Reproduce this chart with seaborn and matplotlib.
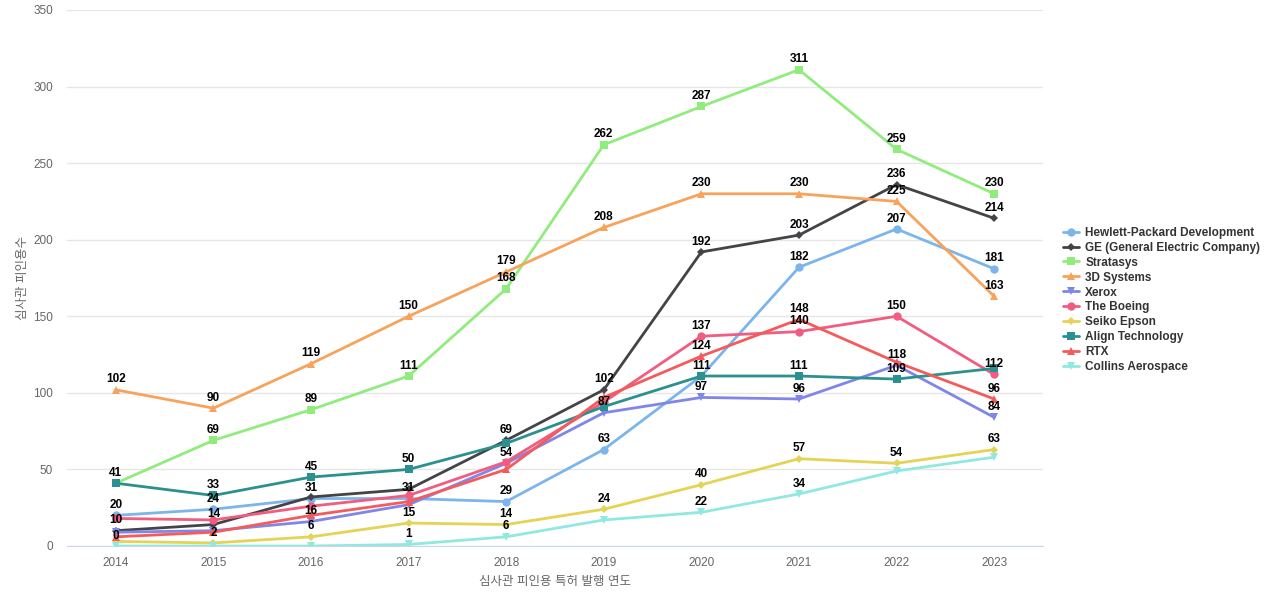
import pandas as pd
import numpy as np
import matplotlib
matplotlib.use('Agg')
import matplotlib.pyplot as plt
import seaborn as sns

# ─────────────────────────────────────────────
# DATA
# ─────────────────────────────────────────────
years = [2014, 2015, 2016, 2017, 2018, 2019, 2020, 2021, 2022, 2023]

companies = ['Hewlett-Packard Development', 'GE (General Electric Company)', 'Stratasys',
             '3D Systems', 'Xerox', 'The Boeing', 'Seiko Epson', 'Align Technology',
             'RTX', 'Collins Aerospace']

hp        = [20, 24, 31, 31, 29, 63, 111, 182, 207, 181]
ge        = [10, 14, 32, 37, 69, 102, 192, 203, 236, 214]
stratasys = [41, 69, 89, 111, 168, 262, 287, 311, 259, 230]
systems3d = [102, 90, 119, 150, 179, 208, 230, 230, 225, 163]
xerox     = [9, 10, 16, 27, 54, 87, 97, 96, 118, 84]
boeing    = [18, 17, 26, 33, 55, 94, 137, 140, 150, 112]
seiko     = [3, 2, 6, 15, 14, 24, 40, 57, 54, 63]
align     = [41, 33, 45, 50, 67, 91, 111, 111, 109, 116]
rtx       = [6, 9, 20, 29, 50, 97, 124, 148, 120, 96]
collins   = [0, 0, 0, 1, 6, 17, 22, 34, 49, 58]

series = [hp, ge, stratasys, systems3d, xerox, boeing, seiko, align, rtx, collins]

COLORS = ['#7cb5ec', '#434348', '#90ed7d', '#f7a35c', '#8085e9',
          '#f15c80', '#e4d354', '#2b908f', '#f45b5b', '#91e8e1']
MARKERS = ['o', 'D', 's', '^', 'v', 'o', 'D', 's', '^', 'v']
MSIZE = {'o': 6, 'D': 4.5, 's': 6, '^': 6, 'v': 6}

rows = []
for name, vals in zip(companies, series):
    for i, v in enumerate(vals):
        rows.append({'company': name, 'idx': i, 'value': v})
df = pd.DataFrame(rows)

# ─────────────────────────────────────────────
# PLOT
# ─────────────────────────────────────────────
sns.set_style("white")
plt.rcParams['font.family'] = ['Liberation Sans', 'Noto Sans CJK KR', 'DejaVu Sans']

fig = plt.figure(figsize=(12.8, 6), dpi=100)
ax = fig.add_axes([67/1280, 54/600, (1043-67)/1280, 536/600])

for k, (name, color, mk) in enumerate(zip(companies, COLORS, MARKERS)):
    sub = df[df['company'] == name]
    sns.lineplot(data=sub, x='idx', y='value', ax=ax, color=color, linewidth=2,
                 marker=mk, markersize=MSIZE[mk], markeredgewidth=0, label=name,
                 zorder=3 + k)

labels = []
for name, vals in zip(companies, series):
    for i, v in enumerate(vals):
        t = ax.annotate(str(v), (i, v), xytext=(0, 7.5), textcoords='offset points',
                        ha='center', va='center', fontsize=8.5, fontweight='bold',
                        color='black', zorder=30)
        labels.append(t)

ax.set_xlim(-0.5, len(years) - 0.5)
ax.set_ylim(0, 350)
ax.set_xticks(range(len(years)))
ax.set_xticklabels([str(y) for y in years])
ax.set_yticks(range(0, 351, 50))
ax.grid(axis='y', color='#e6e6e6', linewidth=1)
ax.grid(axis='x', visible=False)
ax.set_axisbelow(True)
for s in ['top', 'right', 'left']:
    ax.spines[s].set_visible(False)
ax.spines['bottom'].set_color('#ccd6eb')
ax.tick_params(axis='both', colors='#666666', labelsize=8.5, length=0)
ax.tick_params(axis='x', pad=8)
ax.tick_params(axis='y', pad=10)
ax.set_xlabel("심사관 피인용 특허 발행 연도", color='#666666', fontsize=9, labelpad=5)
ax.set_ylabel("심사관 피인용수", color='#666666', fontsize=9, labelpad=3)

handles, names = ax.get_legend_handles_labels()
ax.get_legend().remove()
leg = fig.legend(handles, names, loc='center left', bbox_to_anchor=(1058/1280, 0.5),
                 frameon=False, prop={'size': 8.5, 'weight': 'bold'}, handlelength=1.4,
                 handletextpad=0.5, labelspacing=0.25, borderaxespad=0)
for t in leg.get_texts():
    t.set_color('#333333')

# hide labels that collide with an already shown label (earlier series win)
fig.canvas.draw()
renderer = fig.canvas.get_renderer()
kept = []
for t in labels:
    bb = t.get_window_extent(renderer).expanded(0.95, 1.0)
    if any(bb.overlaps(k) for k in kept):
        t.set_visible(False)
    else:
        kept.append(bb)

plt.savefig("out.png", dpi=100)
plt.close()
